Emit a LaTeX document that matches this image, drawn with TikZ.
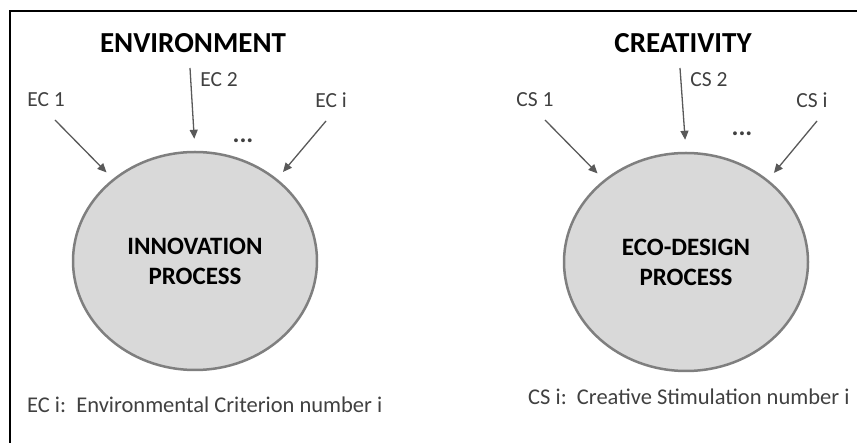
\documentclass[tikz,border=0pt]{standalone}
\usepackage{fontspec}
\setmainfont{Carlito}
\usetikzlibrary{positioning}
\usetikzlibrary{arrows.meta,shapes.geometric}
\definecolor{circfill}{HTML}{D9D9D9}
\definecolor{circline}{HTML}{7F7F7F}
\definecolor{arrgray}{HTML}{595959}
\definecolor{labgray}{HTML}{404040}

\begin{document}
\begin{tikzpicture}
  [x=1pt,y=-1pt,
  title/.style={font=\bfseries\fontsize{29}{34}\selectfont,inner sep=0pt},
  lab/.style={text=labgray,font=\fontsize{21.5}{25}\selectfont,inner sep=0pt},
  legend/.style={text=labgray,font=\fontsize{22.5}{26}\selectfont,inner sep=0pt,anchor=west},
  proc/.style={ellipse,draw=circline,fill=circfill,line width=2.5pt,minimum width=244,minimum height=218,inner sep=0pt,align=center,font=\bfseries\fontsize{25}{30}\selectfont},
  arr/.style={-{Triangle[length=9pt,width=8pt]},arrgray,line width=1.3pt},
  dots/.style={text=labgray,font=\bfseries\fontsize{26}{30}\selectfont,inner sep=0pt}]
  \useasboundingbox (0,0) rectangle (857,443);
  \draw [line width=2pt] (10,443) -- (10,11) -- (857,11);
  
  % environment side
  \node[title] (env) at (193,43) {ENVIRONMENT};
  \node[proc] (innov) at (195,261) {INNOVATION\\PROCESS};
  \node[lab] (ec1) at (46,100) {EC 1};
  \node[lab] (ec2) at (219,80) {EC 2};
  \node[lab] (eci) at (331,100) {EC i};
  \node[dots] (ecdots) at (243,141) {...};
  \coordinate (ec1s) at (55,120);
  \coordinate (ec2s) at (190,68);
  \coordinate (ecis) at (326,121);
  \draw [arr,shorten >=9pt] (ec1s) -- (innov.135);
  \draw [arr,shorten >=12pt] (ec2s) -- (innov.90);
  \draw [arr,shorten >=9pt] (ecis) -- (innov.45);
  \node[legend] (eclegend) at (27,405) {EC i:\ \ Environmental Criterion number i};
  
  % creativity side
  \node[title] (crea) at (683,43) {CREATIVITY};
  \node[proc] (eco) at (686,262) {ECO-DESIGN\\PROCESS};
  \node[lab] (cs1) at (535,100) {CS 1};
  \node[lab] (cs2) at (709,80) {CS 2};
  \node[lab] (csi) at (812,100) {CS i};
  \node[dots] (csdots) at (742,134) {...};
  \coordinate (cs1s) at (545,120);
  \coordinate (cs2s) at (680,68);
  \coordinate (csis) at (817,121);
  \draw [arr,shorten >=9pt] (cs1s) -- (eco.135);
  \draw [arr,shorten >=12pt] (cs2s) -- (eco.90);
  \draw [arr,shorten >=9pt] (csis) -- (eco.45);
  \node[legend] (cslegend) at (528,397) {CS i:\ \ Creative Stimulation number i};
  
\end{tikzpicture}
\end{document}
